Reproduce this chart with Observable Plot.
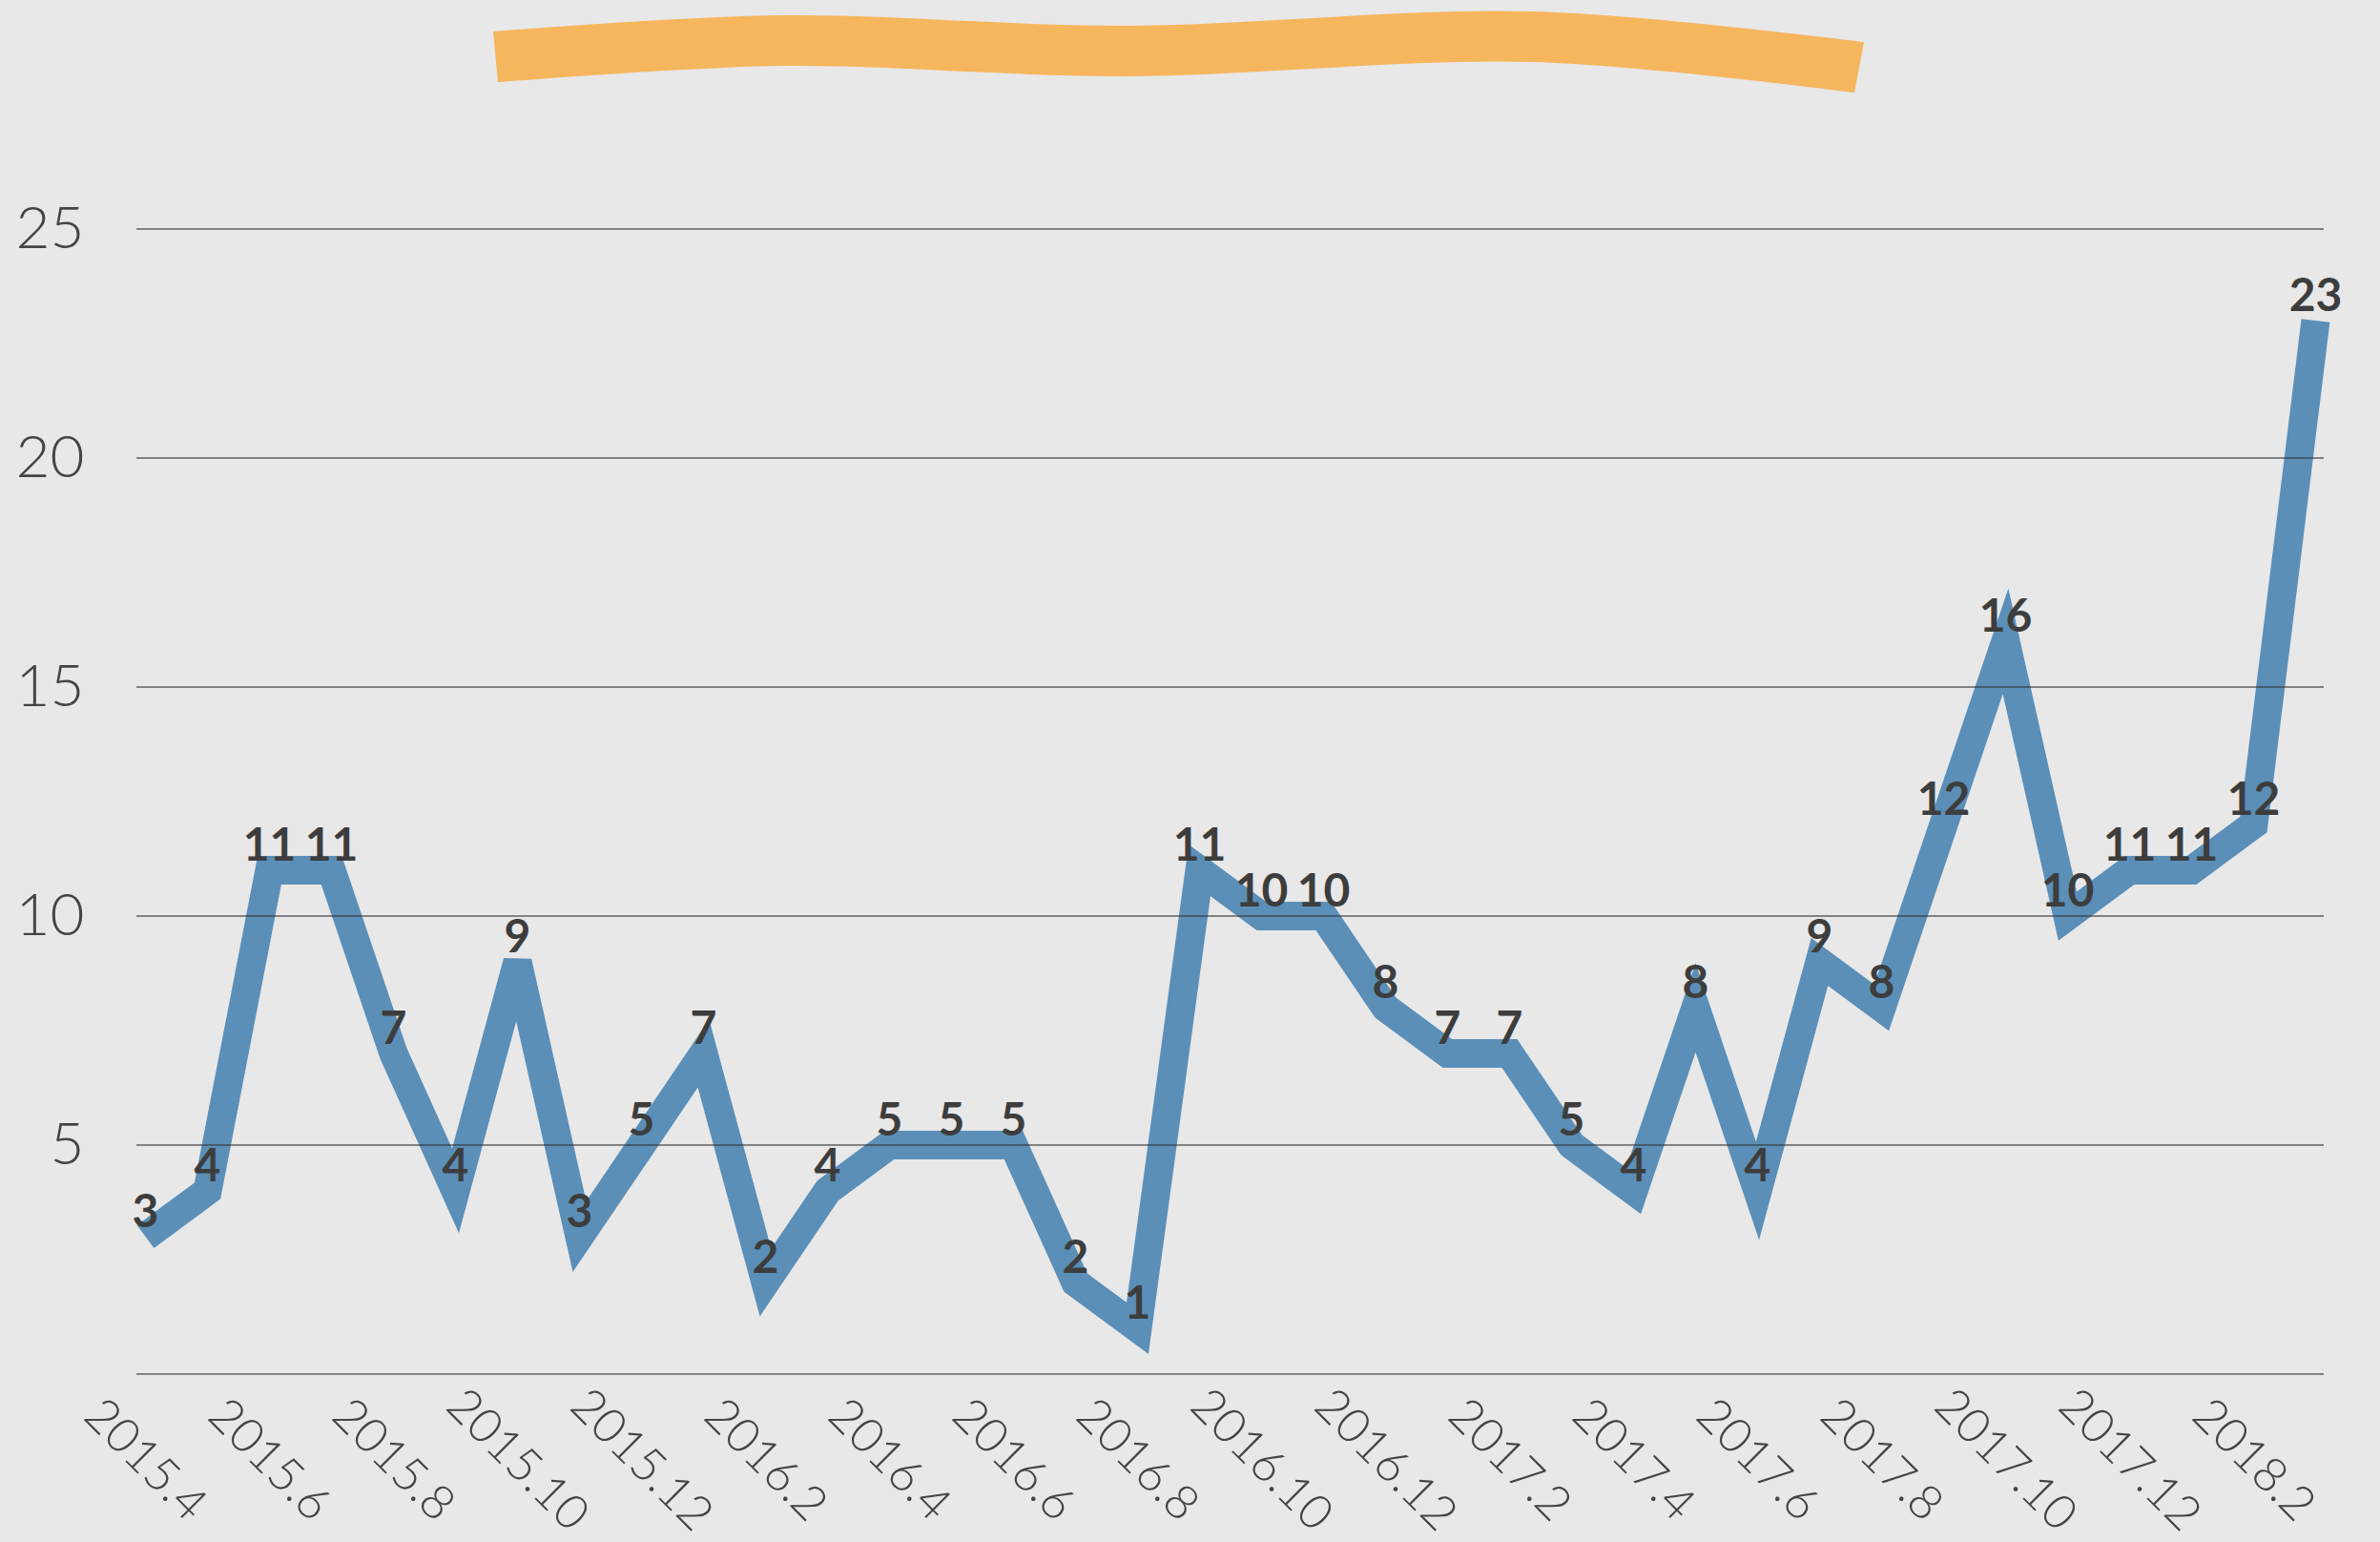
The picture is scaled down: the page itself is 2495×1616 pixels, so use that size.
<!DOCTYPE html>
<html>
<head>
<meta charset="utf-8">
<script src="https://cdn.jsdelivr.net/npm/d3@7"></script>
<script src="https://cdn.jsdelivr.net/npm/@observablehq/plot@0.6"></script>
<style>
  html, body { margin: 0; padding: 0; background: #e8e8e8; }
  #wrap { position: relative; width: 2495px; height: 1616px; overflow: hidden; }
  #deco { position: absolute; left: 0; top: 0; pointer-events: none; }
</style>
</head>
<body>
<div id="wrap"></div>
<script>
// ---- data ----
const months = ["2015.4","2015.5","2015.6","2015.7","2015.8","2015.9","2015.10","2015.11","2015.12",
  "2016.1","2016.2","2016.3","2016.4","2016.5","2016.6","2016.7","2016.8","2016.9","2016.10","2016.11","2016.12",
  "2017.1","2017.2","2017.3","2017.4","2017.5","2017.6","2017.7","2017.8","2017.9","2017.10","2017.11","2017.12",
  "2018.1","2018.2","2018.3"];
const counts = [3,4,11,11,7,4,9,3,5,7,2,4,5,5,5,2,1,11,10,10,8,7,7,5,4,8,4,9,8,12,16,10,11,11,12,23];
const xTickLabels = ["2015.4","2015.6","2015.8","2015.10","2015.12","2016.2","2016.4","2016.6","2016.8",
  "2016.10","2016.12","2017.2","2017.4","2017.6","2017.8","2017.10","2017.12","2018.2"];
const yTickLabels = [5,10,15,20,25];
const gridValues = [0,5,10,15,20,25];

const data = months.map((m, i) => ({month: m, count: counts[i]}));

const chart = Plot.plot({
  width: 2495,
  height: 1616,
  marginLeft: 143,
  marginRight: 59,
  marginTop: 239.5,
  marginBottom: 176.5,
  style: {background: "transparent", fontFamily: "Lato, 'Open Sans', sans-serif", color: "#444"},
  x: {type: "point", domain: months, padding: 0, label: null},
  y: {domain: [0, 25], label: null},
  marks: [
    Plot.axisY(yTickLabels, {tickSize: 0, tickPadding: 55, fontSize: 62, fontWeight: 300, fill: "#444", label: null}),
    Plot.axisX(xTickLabels, {tickSize: 0, tickPadding: 90, tickRotate: 45, textAnchor: "middle", lineAnchor: "middle",
      fontSize: 50, fontWeight: 300, fill: "#444", label: null}),
    Plot.line(data, {x: "month", y: "count", stroke: "#5b8fb8", strokeWidth: 30,
      strokeLinejoin: "miter", strokeLinecap: "butt", strokeMiterlimit: 4}),
    Plot.ruleY(gridValues, {stroke: "#333", strokeOpacity: 0.75, strokeWidth: 1.5}),
    Plot.text(data, {x: "month", y: "count", text: d => String(d.count), dy: -10, lineAnchor: "bottom",
      fontSize: 48, fontWeight: 700, fill: "#3d3d3d"})
  ]
});
document.getElementById("wrap").appendChild(chart);

// ---- decorative orange brush stroke (not data) ----
const decoTop = [[517,33],[820,16],[1177,27],[1607,12],[1954,44]];
const decoBottom = [[1944,97],[1607,65],[1177,80],[820,69],[522,86]];
const ln = d3.line().curve(d3.curveCatmullRom);
const pathD = ln(decoTop) + "L" + ln(decoBottom).slice(1) + "Z";
const svg = d3.select("#wrap").append("svg").attr("id", "deco").attr("width", 2495).attr("height", 200);
svg.append("path").attr("d", pathD).attr("fill", "#f6b65e");
</script>
</body>
</html>
